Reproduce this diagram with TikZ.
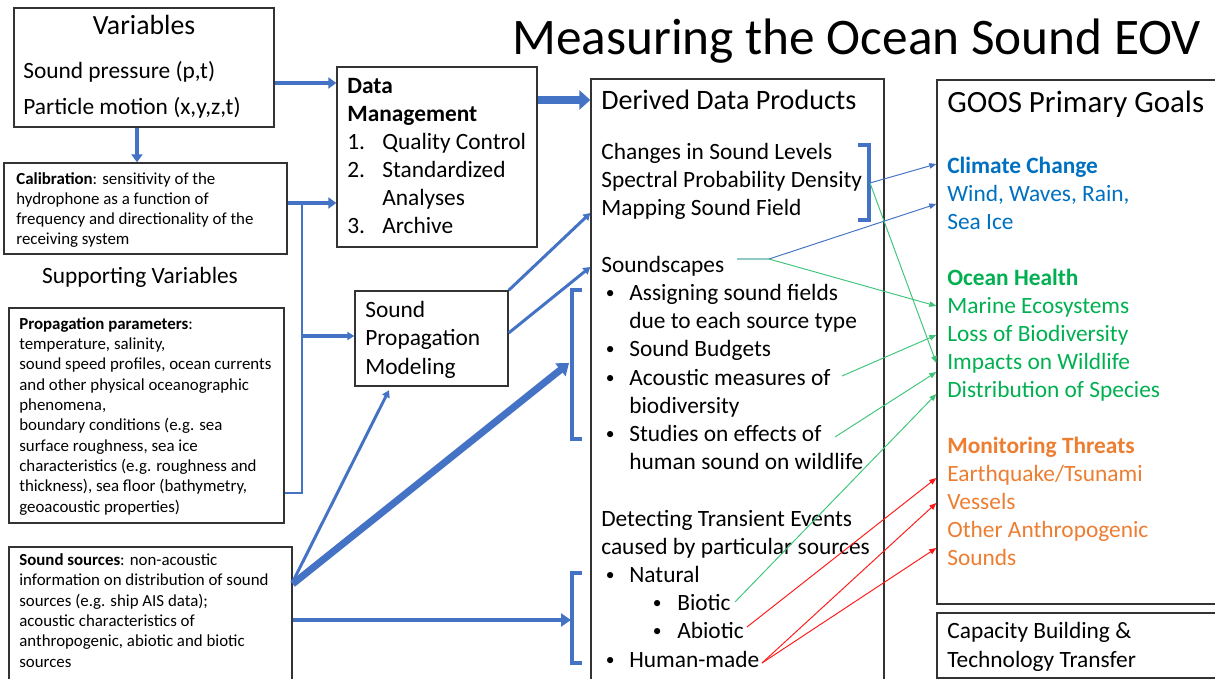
\documentclass[tikz,border=0pt]{standalone}
\usepackage{fontspec}
\setmainfont{Carlito}
\usepackage{xcolor}
\usepackage{graphicx}
\usepackage{tikz}
\usetikzlibrary{arrows.meta,fit}

\definecolor{pptblue}{HTML}{4472C4}
\definecolor{goalblue}{HTML}{0070C0}
\definecolor{goalgreen}{HTML}{00B050}
\definecolor{goalorange}{HTML}{ED7D31}

\newcommand{\bdot}{\raisebox{0.08em}{\scalebox{0.75}{\textbullet}}}
\newcommand{\bul}{\makebox[0.56cm][l]{\hspace{0.09cm}\bdot}}
\newcommand{\subbul}{\hspace*{1.03cm}\makebox[0.49cm][l]{\bdot}}
\newcommand{\cont}{\hspace*{0.56cm}}
\newcommand{\itemnum}[1]{\makebox[0.7cm][l]{#1}}

\begin{document}
\begin{tikzpicture}[
  x=0.02cm, y=-0.02cm,
  box/.style={draw=black!80, line width=0.75pt, inner sep=0pt},
  txt/.style={align=left, inner sep=0pt, font={\fontsize{13.3}{16.05}\selectfont}},
  small/.style={align=left, inner sep=0pt, font={\fontsize{9.6}{11.57}\selectfont}},
  feed/.style={draw=pptblue, line width=2.2pt, -{Triangle[length=1.6mm,width=2.2mm]}},
  fat/.style={draw=pptblue, line width=4.5pt, -{Triangle[length=2.2mm,width=3.8mm]}},
  heavy/.style={draw=pptblue, line width=4pt, -{Triangle[length=2.2mm,width=3.2mm]}},
  mid/.style={draw=pptblue, line width=2.8pt, -{Triangle[length=2mm,width=2.6mm]}},
  link/.style={draw=pptblue, line width=1.7pt, -{Triangle[length=1.4mm,width=1.6mm]}},
  bus/.style={draw=pptblue, line width=1.7pt},
  brk/.style={draw=pptblue, line width=1.8pt},
  thinb/.style={draw=pptblue, line width=0.55pt, -{Triangle[length=1.4mm,width=1.1mm]}},
  thing/.style={thinb, draw=goalgreen!75!white},
  thinr/.style={thinb, draw=red!90!white}
]
\useasboundingbox (0,0) rectangle (1215,679);
\clip (0,0) rectangle (1215,679);

% boxes
\node[box, fit={(14,8) (274,127)}]    (vars)  {};
\node[box, fit={(4,163) (287,254)}]   (calib) {};
\node[box, fit={(9,308) (284,523)}]   (prop)  {};
\node[box, fit={(9,547) (292,700)}]   (srcs)  {};
\node[box, fit={(337,67) (537,247)}]  (dm)    {};
\node[box, fit={(355,291) (508,386)}] (spm)   {};
\node[box, fit={(591,79) (884,720)}]  (ddp)   {};
\node[box, fit={(937,80) (1240,604)}] (goos)  {};
\node[box, fit={(937,613) (1240,678)}] (cap)  {};

% texts (multi-line nodes sit on their last baseline)
\node[anchor=base west, inner sep=0pt, font={\fontsize{29.2}{35}\selectfont}] (title) at (512,55) {Measuring the Ocean Sound EOV};
\node[anchor=base, inner sep=0pt, font={\fontsize{15.8}{19}\selectfont}] (varsT) at (144,35) {Variables};
\node[txt, anchor=base west] (varsL) at (23,115) {Sound pressure (p,t)\\[4.9pt]Particle motion (x,y,z,t)};
\node[small, anchor=base west] (calibL) at (16,245) {\textbf{Calibration}: sensitivity of the\\hydrophone as a function of\\frequency and directionality of the\\receiving system};
\node[txt, anchor=base] (supp) at (140,283) {Supporting Variables};
\node[small, anchor=base west] (propL) at (19,512) {\textbf{Propagation parameters}:\\temperature, salinity,\\sound speed profiles, ocean currents\\and other physical oceanographic\\phenomena,\\boundary conditions (e.g. sea\\surface roughness, sea ice\\characteristics (e.g. roughness and\\thickness), sea floor (bathymetry,\\geoacoustic properties)};
\node[small, anchor=base west] (srcsL) at (19,667) {\textbf{Sound sources}: non-acoustic\\information on distribution of sound\\sources (e.g. ship AIS data);\\acoustic characteristics of\\anthropogenic, abiotic and biotic\\sources};
\node[txt, anchor=base west] (dmL) at (347,234) {\textbf{Data}\\\textbf{Management}\\\itemnum{1.}Quality Control\\\itemnum{2.}Standardized\\\itemnum{}Analyses\\\itemnum{3.}Archive};
\node[txt, anchor=base west] (spmL) at (365,374) {Sound\\Propagation\\Modeling};
\node[anchor=base west, inner sep=0pt, font={\fontsize{16}{19}\selectfont}] (ddpT) at (601,110) {Derived Data Products};
\node[txt, anchor=base west] (ddpL) at (601,667) {Changes in Sound Levels\\Spectral Probability Density\\Mapping Sound Field\\[16.05pt]Soundscapes\\\bul Assigning sound fields\\\cont due to each source type\\\bul Sound Budgets\\\bul Acoustic measures of\\\cont biodiversity\\\bul Studies on effects of\\\cont human sound on wildlife\\[16.05pt]Detecting Transient Events\\caused by particular sources\\\bul Natural\\\subbul Biotic\\\subbul Abiotic\\\bul Human-made};
\node[anchor=base west, inner sep=0pt, font={\fontsize{17.6}{21}\selectfont}] (goosT) at (947,113) {GOOS Primary Goals};
\node[txt, anchor=base west, font={\fontsize{13.3}{15.9}\selectfont}] (goosL) at (947,565) {\textcolor{goalblue}{\textbf{Climate Change}}\\\textcolor{goalblue}{Wind, Waves, Rain,}\\\textcolor{goalblue}{Sea Ice}\\[15.9pt]\textcolor{goalgreen}{\textbf{Ocean Health}}\\\textcolor{goalgreen}{Marine Ecosystems}\\\textcolor{goalgreen}{Loss of Biodiversity}\\\textcolor{goalgreen}{Impacts on Wildlife}\\\textcolor{goalgreen}{Distribution of Species}\\[15.9pt]\textcolor{goalorange}{\textbf{Monitoring Threats}}\\\textcolor{goalorange}{Earthquake/Tsunami}\\\textcolor{goalorange}{Vessels}\\\textcolor{goalorange}{Other Anthropogenic}\\\textcolor{goalorange}{Sounds}};
\node[txt, anchor=base west] (capL) at (947,667) {Capacity Building \&\\Technology Transfer};

% brackets and line ends
\draw[brk] (858,145) -| (869,220) -- (858,220);
\draw[brk] (582,290) -| (572,439) -- (582,439);
\draw[brk] (582,573) -| (572,663) -- (582,663);
\coordinate (brA) at (870,183);
\coordinate (brB) at (569,363);
\coordinate (brC) at (571,620);
\coordinate (jn) at (302,203);
\coordinate (ssA) at (737,259);
\coordinate (ssB) at (769,259);
\coordinate (acm) at (842,376);
\coordinate (stu) at (835,437);
\coordinate (bio) at (735,602);
\coordinate (abio) at (747,627);
\coordinate (hum) at (762,663);

% blue flow
\draw[feed] (vars.east |- 0,83) -- (dm.west |- 0,83);
\draw[feed] (vars.south -| 137,0) -- (calib.north -| 137,0);
\draw[feed] (calib.east |- jn) -- (dm.west |- jn);
\draw[bus] (prop.east |- 0,493) -| (jn);
\draw[link, line width=1.9pt] (jn |- 0,336) -- (spm.west |- 0,336);
\draw[fat] (dm.east |- 0,100) -- (ddp.west |- 0,100);
\draw[link] (spm.north east) -- (ddp.west |- 0,213);
\draw[link] (spm.east |- 0,333) -- (ddp.west |- 0,267);
\draw[link] (srcs.east |- 0,582) -- ([yshift=-2pt]spm.south -| 389,0);
\draw[heavy] (srcs.east |- 0,584) -- (brB);
\draw[mid] (srcs.east |- brC) -- (brC);

% goal links
\draw[thinb] (brA) -- (goos.west |- 0,164);
\draw[thinb] (ssA) -- (ssB) -- (goos.west |- 0,204);
\draw[thing] (ssA) -- (ssB) -- (goos.west |- 0,306);
\draw[thing] (brA) -- (goos.west |- 0,363);
\draw[thing] (acm) -- (goos.west |- 0,335);
\draw[thing] (stu) -- (goos.west |- 0,372);
\draw[thing] (bio) -- (goos.west |- 0,394);
\draw[thinr] (abio) -- (goos.west |- 0,478);
\draw[thinr] (hum) -- (goos.west |- 0,503);
\draw[thinr] (hum) -- (goos.west |- 0,548);
\end{tikzpicture}
\end{document}
